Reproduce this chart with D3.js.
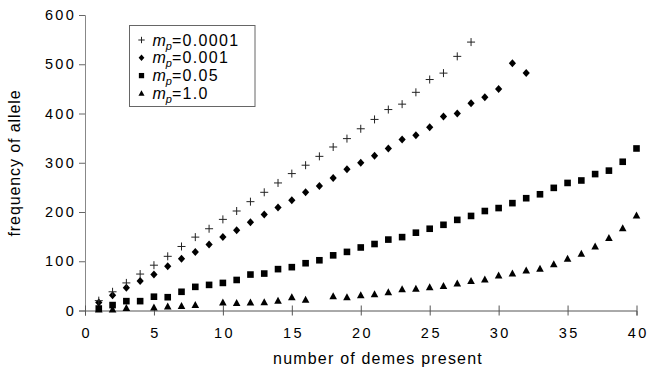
<!DOCTYPE html>
<html><head><meta charset="utf-8">
<script src="https://cdn.jsdelivr.net/npm/d3@7"></script>
<style>body{margin:0;background:#fff}svg{display:block}text{font-family:"Liberation Sans",Arial,sans-serif}</style>
</head><body><svg id="c" width="658" height="371"></svg>
<script>
const xTicks = [0,5,10,15,20,25,30,35,40];
const yTicks = [0,100,200,300,400,500,600];
const seriesNames = ["0.0001","0.001","0.05","1.0"];
const mp0001 = [20,38,56,74,92,110,130,149,166,185,202,221,240,259,278,295,313,332,349,369,388,408,419,443,469,482,516,545];
const mp001 = [16,31,46,60,73,90,105,119,134,149,163,179,195,209,224,240,253,269,287,300,314,329,347,356,372,394,400,421,433,450,502,482];
const mp05 = [4,11,19,19,28,27,38,48,52,56,62,73,75,84,88,96,102,112,119,128,135,144,149,158,166,174,184,192,202,208,218,228,236,249,259,264,277,284,302,329];
const mp1 = [2,2,5,null,6,8,9,11,null,16,15,16,17,20,27,22,null,29,27,31,33,37,43,44,47,50,55,60,63,71,75,81,85,94,105,115,130,147,167,193];

const svg = d3.select("#c");
const x = d3.scaleLinear().domain([0,40]).range([85,636.5]);
const y = d3.scaleLinear().domain([0,600]).range([310.5,15]);

// axes
const gy = svg.append("g").attr("transform","translate(85,0)")
  .call(d3.axisLeft(y).tickValues(yTicks).tickSize(6).tickPadding(3));
gy.select(".domain").attr("stroke","#888");
gy.selectAll(".tick line").attr("stroke","#666");
gy.selectAll(".tick text").attr("font-size",14.5).attr("fill","#000").style("letter-spacing","2.3px");

const gx = svg.append("g").attr("transform","translate(0,310.5)")
  .call(d3.axisBottom(x).tickValues(xTicks).tickSize(5).tickPadding(12));
gx.select(".domain").attr("stroke","#555");
gx.selectAll(".tick line").attr("stroke","#555").attr("y1",-5);
gx.selectAll(".tick text").attr("font-size",14.5).attr("fill","#000").style("letter-spacing","2.5px").attr("dx","1.2px");

svg.append("text").attr("x",378).attr("y",364).attr("text-anchor","middle")
  .attr("font-size",16).style("letter-spacing","1.2px").text("number of demes present");
svg.append("text").attr("transform","translate(19.5,163) rotate(-90)").attr("text-anchor","middle")
  .attr("font-size",16).style("letter-spacing","0.9px").text("frequency of allele");

// markers
function drawMarker(g, type, scale){
  const s = scale||1;
  if(type===0){
    g.append("path").attr("d",`M${-4*s},0H${4*s}M0,${-4*s}V${4*s}`).attr("stroke","#222").attr("stroke-width",1).attr("fill","none");
  } else if(type===1){
    g.append("path").attr("d",`M0,${-4*s}L${3.6*s},0L0,${4*s}L${-3.6*s},0Z`).attr("fill","#000");
  } else if(type===2){
    g.append("rect").attr("x",-3.3*s).attr("y",-3.3*s).attr("width",6.6*s).attr("height",6.6*s).attr("fill","#000");
  } else {
    g.append("path").attr("d",`M0,${-4*s}L${3.8*s},${3*s}L${-3.8*s},${3*s}Z`).attr("fill","#000");
  }
}
const allSeries = [mp0001, mp001, mp05, mp1];
[3,2,1,0].forEach(k=>{
  const data = allSeries[k].map((v,i)=>({n:i+1,v})).filter(d=>d.v!==null);
  const g = svg.append("g");
  data.forEach(d=>{
    const m = g.append("g").attr("transform",`translate(${x(d.n)},${y(d.v)})`);
    drawMarker(m,k,1);
  });
});

// legend
const lg = svg.append("g");
lg.append("rect").attr("x",129.5).attr("y",25.5).attr("width",125.5).attr("height",81)
  .attr("fill","#fff").attr("stroke","#666").attr("stroke-width",1);
seriesNames.forEach((nm,i)=>{
  const cy = 40 + i*17.8;
  const m = lg.append("g").attr("transform",`translate(141.5,${cy})`);
  drawMarker(m,i,0.8);
  const t = lg.append("text").attr("x",152.5).attr("y",cy+5.5).attr("font-size",16);
  t.append("tspan").attr("font-style","italic").text("m");
  t.append("tspan").attr("font-style","italic").attr("font-size",11).attr("dy",4).text("p");
  t.append("tspan").attr("dy",-4).style("letter-spacing","1.3px").text("="+nm);
});
</script></body></html>
